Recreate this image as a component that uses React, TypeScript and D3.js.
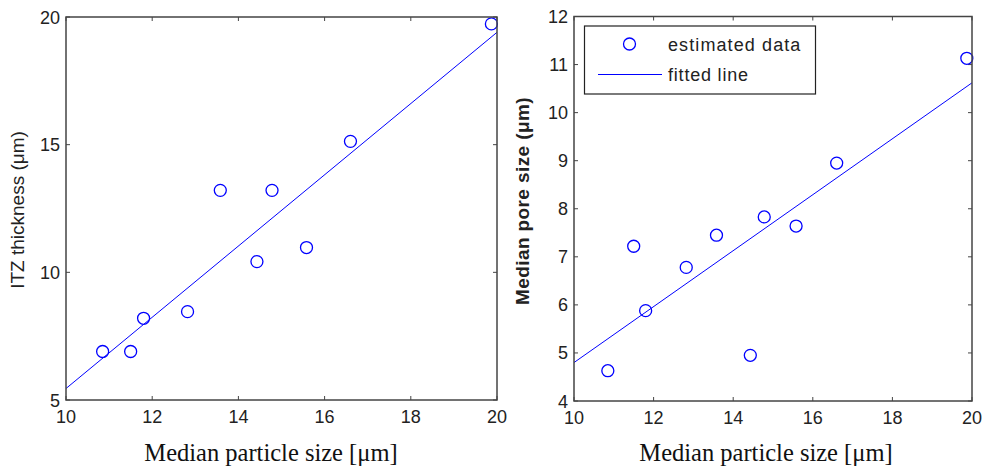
import React from "react";
import * as d3 from "d3";

// ---- data ----
const particleSize = [10.85, 11.5, 11.8, 12.82, 13.58, 14.43, 14.78, 15.58, 16.6, 19.87];
const itzThickness = [6.9, 6.9, 8.2, 8.46, 13.21, 10.42, 13.21, 10.97, 15.13, 19.73];
const poreSize = [4.63, 7.22, 5.88, 6.78, 7.45, 4.95, 7.83, 7.64, 8.95, 11.13];
const fitX = [10, 20];
const fitItz = [5.45, 19.4];
const fitPore = [4.8, 10.62];
const xTicks = [10, 12, 14, 16, 18, 20];
const itzTicks = [5, 10, 15, 20];
const poreTicks = [4, 5, 6, 7, 8, 9, 10, 11, 12];
const xLabel = "Median particle size [\u03bcm]";
const itzLabel = "ITZ thickness (\u03bcm)";
const poreLabel = "Median pore size (\u03bcm)";
const legendItems = ["estimated data", "fitted line"];

const BLUE = "#0000ff";
const AXIS = "#444";
const SANS = "Arial, 'Liberation Sans', sans-serif";
const SERIF = "'Palatino Linotype', 'Book Antiqua', 'Liberation Serif', serif";

type PanelProps = {
  x0: number; x1: number; yTop: number; yBot: number;
  yDomain: [number, number]; yTicks: number[]; yVals: number[]; fitY: number[];
  yLabel: string; yLabelX: number; yLabelY: number; yLabelBold?: boolean;
  xLabelX: number; legend?: boolean;
};

function Panel(p: PanelProps) {
  const x = d3.scaleLinear().domain([10, 20]).range([p.x0, p.x1]);
  const y = d3.scaleLinear().domain(p.yDomain).range([p.yBot, p.yTop]);
  const line = d3.line<number>().x((_, i) => x(fitX[i])).y((v) => y(v));
  const tl = 4;
  return (
    <g>
      <defs>
        <clipPath id={`clip${p.x0}`}>
          <rect x={p.x0} y={p.yTop} width={p.x1 - p.x0} height={p.yBot - p.yTop} />
        </clipPath>
      </defs>
      {xTicks.map((t) => (
        <g key={"xt" + t}>
          <line x1={x(t)} x2={x(t)} y1={p.yBot} y2={p.yBot - tl} stroke={AXIS} />
          <line x1={x(t)} x2={x(t)} y1={p.yTop} y2={p.yTop + tl} stroke={AXIS} />
          <text x={x(t)} y={p.yBot + 23} textAnchor="middle" fontFamily={SANS} fontSize={18} fill="#222">{t}</text>
        </g>
      ))}
      {p.yTicks.map((t) => (
        <g key={"yt" + t}>
          <line x1={p.x0} x2={p.x0 + tl} y1={y(t)} y2={y(t)} stroke={AXIS} />
          <line x1={p.x1} x2={p.x1 - tl} y1={y(t)} y2={y(t)} stroke={AXIS} />
          <text x={p.x0 - 6} y={y(t) + 6.5} textAnchor="end" fontFamily={SANS} fontSize={18} fill="#222">{t}</text>
        </g>
      ))}
      <path d={line(p.fitY) || ""} fill="none" stroke={BLUE} strokeWidth={1} clipPath={`url(#clip${p.x0})`} />
      {particleSize.map((v, i) => (
        <circle key={i} cx={x(v)} cy={y(p.yVals[i])} r={6} fill="none" stroke={BLUE} strokeWidth={1.3} />
      ))}
      <rect x={p.x0} y={p.yTop} width={p.x1 - p.x0} height={p.yBot - p.yTop} fill="none" stroke={AXIS} strokeWidth={1.5} />
      <text x={p.xLabelX} y={461} textAnchor="middle" fontFamily={SERIF} fontSize={24.5} fill="#111">{xLabel}</text>
      <text transform={`translate(${p.yLabelX},${p.yLabelY}) rotate(-90)`} textAnchor="middle" fontFamily={SANS}
        fontSize={19} fontWeight={p.yLabelBold ? "bold" : "normal"} fill="#222"
        letterSpacing={p.yLabelBold ? 0.4 : 0}>{p.yLabel}</text>
      {p.legend && (
        <g>
          <rect x={584.5} y={26} width={231} height={68} fill="#fff" stroke="#222" strokeWidth={1.2} />
          <circle cx={629.5} cy={44} r={6} fill="none" stroke={BLUE} strokeWidth={1.3} />
          <text x={668} y={50.5} fontFamily={SANS} fontSize={18} fill="#222" letterSpacing={1.1}>{legendItems[0]}</text>
          <line x1={598} x2={662} y1={74.5} y2={74.5} stroke={BLUE} strokeWidth={1} />
          <text x={668} y={80.5} fontFamily={SANS} fontSize={18} fill="#222" letterSpacing={0.8}>{legendItems[1]}</text>
        </g>
      )}
    </g>
  );
}

export default function App() {
  return (
    <svg width={991} height={468} style={{ position: "absolute", left: 0, top: 0, background: "#fff" }}>
      <rect width={991} height={468} fill="#fff" />
      <Panel x0={66} x1={497} yTop={17} yBot={400} yDomain={[5, 20]} yTicks={itzTicks} yVals={itzThickness}
        fitY={fitItz} yLabel={itzLabel} yLabelX={23.5} yLabelY={210} xLabelX={271} />
      <Panel x0={574} x1={972} yTop={16.5} yBot={401} yDomain={[4, 12]} yTicks={poreTicks} yVals={poreSize}
        fitY={fitPore} yLabel={poreLabel} yLabelX={528.5} yLabelY={201} yLabelBold xLabelX={766} legend />
    </svg>
  );
}
